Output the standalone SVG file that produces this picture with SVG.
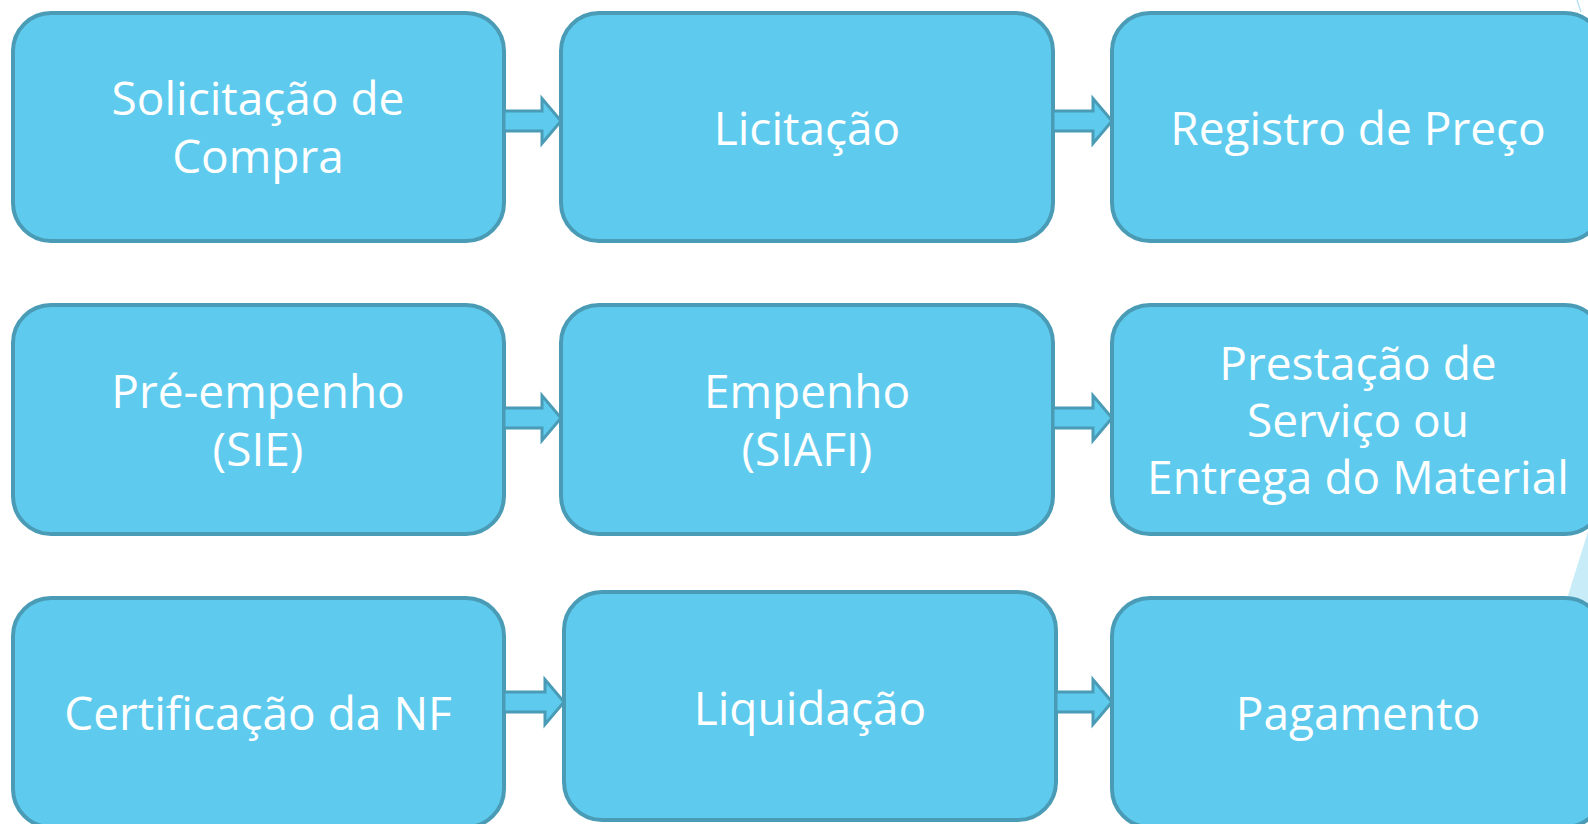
<svg xmlns="http://www.w3.org/2000/svg" width="1588" height="824" viewBox="0 0 1588 824">
<style>
.box{fill:#5ECBEE;stroke:#4A9BB5;stroke-width:4}
.arr{fill:#5ECBEE;stroke:#4A9BB5;stroke-width:3;stroke-linejoin:miter}
.t{font-family:"Open Sans","Noto Sans",sans-serif;font-size:46px;fill:#FFFFFF;text-anchor:middle}
</style>
<rect width="1588" height="824" fill="#FFFFFF"/>
<g id="decor">
<polygon points="1591,522 1565,605 1600,605 1600,522" fill="#C8ECF8"/>
<line x1="1577" y1="0" x2="1581" y2="12" stroke="#A8DDF0" stroke-width="1.2"/>
</g>
<g id="n1"><rect class="box" x="13" y="13" width="491" height="228" rx="38"/>
<text class="t" x="258" y="115">Solicitação de</text><text class="t" x="258" y="173">Compra</text></g>
<g id="n2"><rect class="box" x="561" y="13" width="492" height="228" rx="38"/>
<text class="t" x="807" y="145">Licitação</text></g>
<g id="n3"><rect class="box" x="1112" y="13" width="491" height="228" rx="38"/>
<text class="t" x="1358" y="145">Registro de Preço</text></g>
<g id="n4"><rect class="box" x="13" y="305" width="491" height="229" rx="38"/>
<text class="t" x="258" y="408">Pré-empenho</text><text class="t" x="258" y="466">(SIE)</text></g>
<g id="n5"><rect class="box" x="561" y="305" width="492" height="229" rx="38"/>
<text class="t" x="807" y="408">Empenho</text><text class="t" x="807" y="466">(SIAFI)</text></g>
<g id="n6"><rect class="box" x="1112" y="305" width="491" height="229" rx="38"/>
<text class="t" x="1358" y="380">Prestação de</text><text class="t" x="1358" y="437">Serviço ou</text><text class="t" x="1358" y="494">Entrega do Material</text></g>
<g id="n7"><rect class="box" x="13" y="598" width="491" height="229" rx="38"/>
<text class="t" x="258" y="730">Certificação da NF</text></g>
<g id="n8"><rect class="box" x="564" y="592" width="492" height="228" rx="38"/>
<text class="t" x="810" y="725">Liquidação</text></g>
<g id="n9"><rect class="box" x="1112" y="598" width="491" height="229" rx="38"/>
<text class="t" x="1358" y="730">Pagamento</text></g>
<g id="connectors">
<path class="arr" d="M504,111 H542 V98.5 L561,121 L542,143.5 V131 H504 Z"/>
<path class="arr" d="M1053,111 H1093 V98.5 L1112,121 L1093,143.5 V131 H1053 Z"/>
<path class="arr" d="M504,408 H542 V395.5 L561,418 L542,440.5 V428 H504 Z"/>
<path class="arr" d="M1053,408 H1093 V395.5 L1112,418 L1093,440.5 V428 H1053 Z"/>
<path class="arr" d="M504,692 H545 V679.5 L564,702 L545,724.5 V712 H504 Z"/>
<path class="arr" d="M1056,692 H1093 V679.5 L1112,702 L1093,724.5 V712 H1056 Z"/>
</g>
</svg>
